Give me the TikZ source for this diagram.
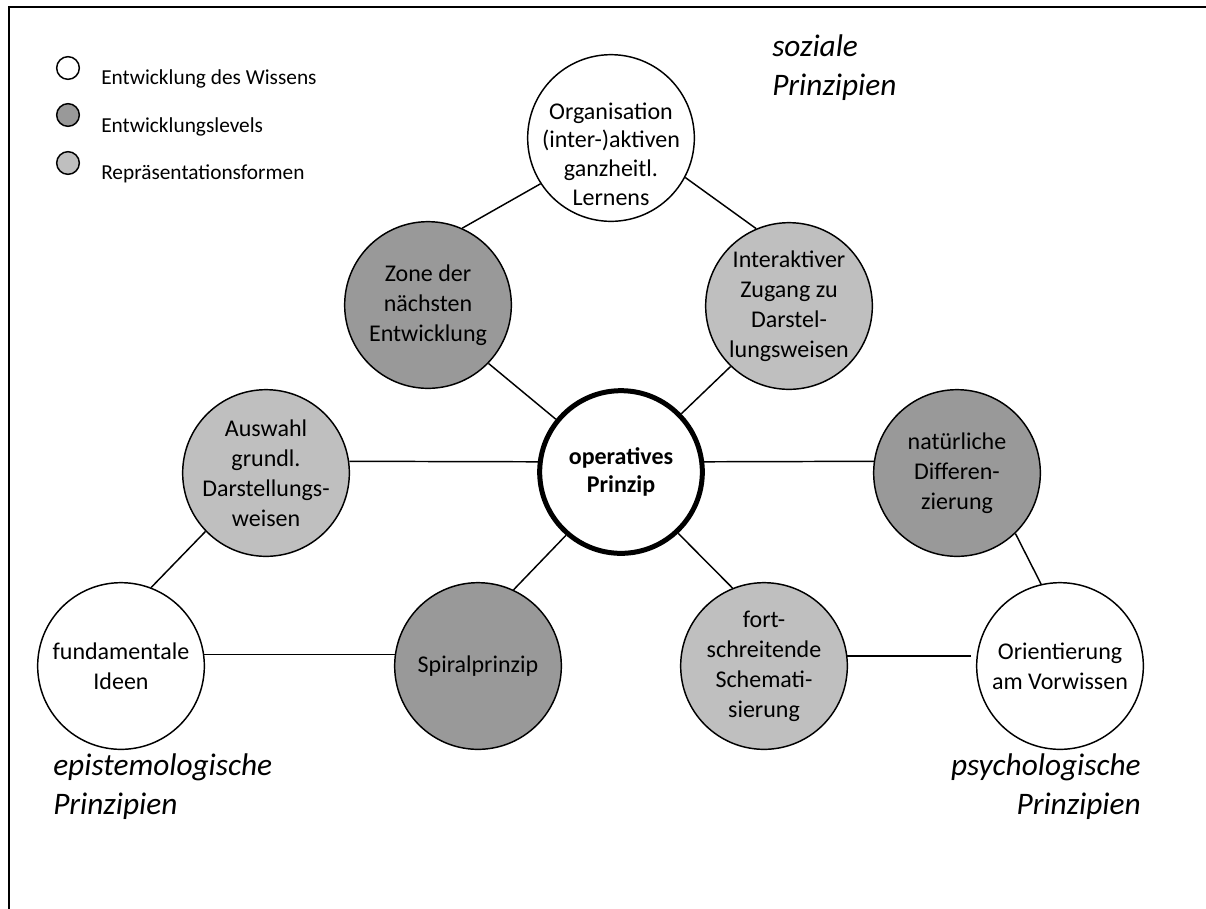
\documentclass[tikz,border=0pt]{standalone}
\usepackage{fontspec}
\setmainfont{Carlito}
\definecolor{levelgray}{HTML}{999999}
\definecolor{reprgray}{HTML}{BFBFBF}
\begin{document}
\begin{tikzpicture}[x=0.75pt,y=-0.75pt,
  bubble/.style={circle, draw=black, line width=1.1pt, minimum size=125pt,
    inner sep=0pt, align=center, font=\fontsize{18}{22.5}\selectfont},
  knowbox/.style={bubble, fill=white},
  levelbox/.style={bubble, fill=levelgray},
  reprbox/.style={bubble, fill=reprgray},
  bubbletext/.style={align=center, inner sep=0pt, font=\fontsize{18}{21.5}\selectfont},
  link/.style={line width=1.1pt},
  legdot/.style={circle, draw=black, line width=1.1pt, minimum size=17pt, inner sep=0pt},
  legtext/.style={anchor=west, inner sep=0pt, font=\fontsize{16}{19}\selectfont},
  region/.style={inner sep=0pt, font=\fontsize{23.5}{28.7}\selectfont\itshape}
]
\useasboundingbox (0,0) rectangle (1206,908);

% page frame
\begin{scope}
  \clip (0,0) rectangle (1206,908);
  \draw[line width=1.5pt] (8.5,7) rectangle (1230,930);
\end{scope}

% legend
\node[legdot, fill=white]     (k1) at (68,68)  {};
\node[legdot, fill=levelgray] (k2) at (68,115) {};
\node[legdot, fill=reprgray]  (k3) at (68,163) {};
\node[legtext] (k1t) at (101,79)  {Entwicklung des Wissens};
\node[legtext] (k2t) at (101,127) {Entwicklungslevels};
\node[legtext] (k3t) at (101,174) {Repräsentationsformen};

% principle groups
\node[region, anchor=base west, align=left]  (soz) at (772,95)   {soziale\\Prinzipien};
\node[region, anchor=base west, align=left]  (epi) at (53,814)   {epistemologische\\Prinzipien};
\node[region, anchor=base east, align=right] (psy) at (1141,814) {psychologische\\Prinzipien};

% circles
\node[knowbox, label={[name=orgtext, bubbletext, yshift=-12pt]center:{Organisation\\(inter-)aktiven\\ganzheitl.\\Lernens}}] (org) at (611,138) {};
\node[levelbox] (zone)  at (428,305) {Zone der\\nächsten\\Entwicklung};
\node[reprbox]  (inter) at (789,306) {Interaktiver\\Zugang zu\\Darstel-\\lungsweisen};
\node[reprbox]  (ausw)  at (266,473) {Auswahl\\grundl.\\Darstellungs-\\weisen};
\node[levelbox] (nat)   at (957,473) {natürliche\\Differen-\\zierung};
\node[circle, draw=black, fill=white, line width=3.75pt, minimum size=122pt, inner sep=0pt,
      align=center, font=\fontsize{18}{20.5}\selectfont\bfseries] (op) at (621,472) {operatives\\Prinzip};
\node[knowbox]  (fund)   at (121,666)  {fundamentale\\Ideen};
\node[levelbox] (spiral) at (478,666)  {Spiralprinzip};
\node[reprbox]  (fort)   at (764,666)  {fort-\\schreitende\\Schemati-\\sierung};
\node[knowbox]  (ori)    at (1060,666) {Orientierung\\am Vorwissen};

% connectors
\draw[link] (zone.66)   -- (org.213);
\draw[link] (org.-28)   -- (inter.113);
\draw[link] (zone.-44)  -- (op.141);
\draw[link] (inter.226) -- (op.44);
\draw[link] (ausw.8)    -- (op.173);
\draw[link] (op.7)      -- (nat.172);
\draw[link] (ausw.224)  -- (fund.69);
\draw[link] (fund.8)    -- (spiral.172);
\draw[link] (spiral.65) -- (op.229);
\draw[link] (op.-47)    -- (fort.112);
\draw[link] (nat.-46)   -- (ori.103);
\draw[link, shorten >=4pt] (fort.7) -- (ori.173);
\end{tikzpicture}
\end{document}
